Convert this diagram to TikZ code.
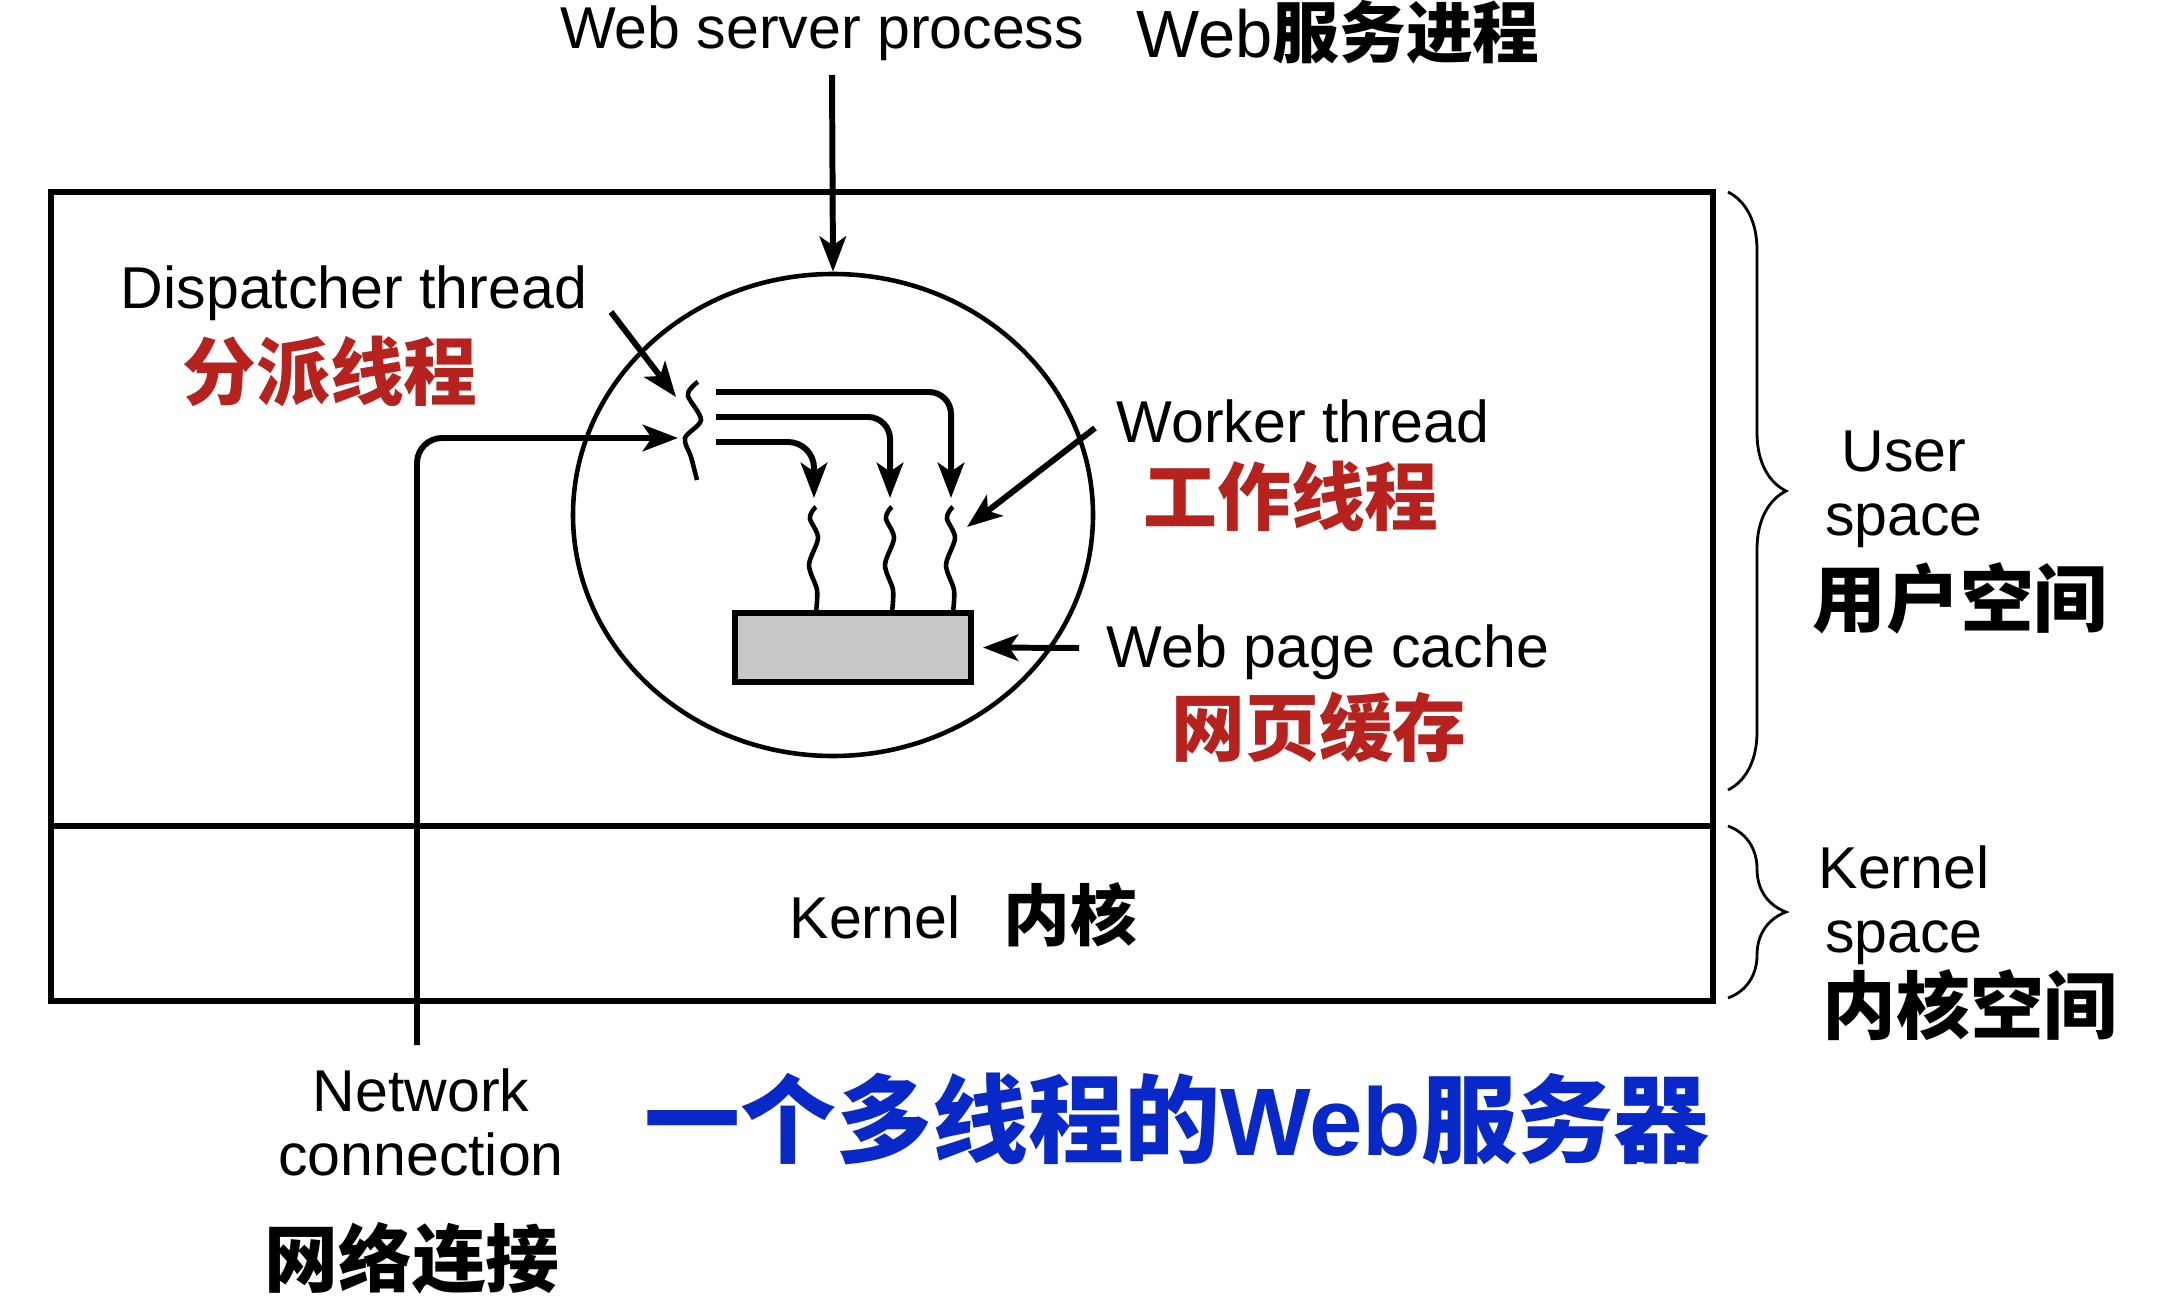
\documentclass[tikz,border=0pt]{standalone}
\usepackage{fontspec}
\setmainfont{Liberation Sans}
\newfontfamily\cjk{Noto Sans CJK SC}
\usetikzlibrary{arrows.meta,decorations.pathreplacing,shapes.geometric,positioning}
\definecolor{zhred}{RGB}{182,34,30}
\definecolor{zhblue}{RGB}{8,40,200}
\definecolor{cachegray}{RGB}{200,200,200}

\begin{document}
\begin{tikzpicture}[
    lbl/.style={font=\fontsize{16.8}{18.2}\selectfont, inner sep=0pt, align=center},
    zh/.style={font=\fontsize{21}{24}\selectfont\cjk\bfseries, inner sep=0pt},
    redzh/.style={zh, text=zhred},
    arrow/.style={line width=1.7pt, -{Stealth[length=10pt,width=7.5pt,inset=2.5pt]}},
    thread/.style={line width=1.3pt},
    brace/.style={line width=0.8pt, decorate, decoration={brace, amplitude=0.58cm}}
]
    \useasboundingbox (0,0) rectangle (21.8,12.98);

    % Proceso: espacio de usuario y kernel
    \draw[line width=1.8pt] (0.51,2.97) rectangle (17.13,11.06);
    \draw[line width=1.8pt] (0.51,4.72) -- (17.13,4.72);
    \node[draw, ellipse, line width=1.3pt, minimum width=5.2cm, minimum height=4.82cm] (proc) at (8.33,7.83) {};
    \node[draw, line width=1.7pt, fill=cachegray, minimum width=2.36cm, minimum height=0.69cm] (cache) at (8.53,6.505) {};

    % Hilo despachador
    \draw[thread] plot[smooth] coordinates {(6.98,9.16) (6.93,9.12) (6.88,9.02) (7.01,8.78) (6.85,8.60) (6.91,8.41) (6.97,8.18)};
    \coordinate (disp) at (6.78,8.60);
    \coordinate (dtip) at (6.76,9.01);
    \foreach \n/\y in {1/9.06, 2/8.81, 3/8.56}
        \coordinate (d\n) at (7.16,\y);

    % Hilos trabajadores
    \foreach \x/\n in {8.14/1, 8.90/2, 9.51/3} {
        \draw[thread] plot[smooth] coordinates {({\x+0.02},7.91) ({\x-0.01},7.88) ({\x-0.04},7.79) ({\x+0.04},7.60) ({\x-0.05},7.33) ({\x+0.03},7.08) ({\x+0.02},6.86)};
        \coordinate (w\n) at (\x,8.00);
    }
    \draw[arrow, rounded corners=0.22cm] (d1) -| (w3);
    \draw[arrow, rounded corners=0.22cm] (d2) -| (w2);
    \draw[arrow, rounded corners=0.26cm] (d3) -| (w1);

    % Etiquetas
    \node[lbl, anchor=base] (websrv) at (8.22,12.49) {Web server process};
    \node[anchor=base, inner sep=0pt, font=\fontsize{19}{22}\selectfont] (websrvzh) at (13.38,12.40) {Web{\cjk\bfseries 服务进程}};
    \node[lbl, anchor=base] (displbl) at (3.54,9.89) {Dispatcher thread};
    \node[redzh] (dispzh) at (3.30,9.27) {分派线程};
    \node[lbl, anchor=base] (worklbl) at (13.03,8.56) {Worker thread};
    \node[redzh] (workzh) at (12.91,8.02) {工作线程};
    \node[lbl, anchor=base] (cachelbl) at (13.28,6.31) {Web page cache};
    \node[redzh] (cachezh) at (13.19,5.71) {网页缓存};
    \node[lbl, anchor=base] (user) at (19.04,7.63) {User\\space};
    \node[zh] (userzh) at (19.60,7.00) {用户空间};
    \node[lbl, anchor=base] (kern) at (19.04,3.46) {Kernel\\space};
    \node[zh] (kernzh) at (19.70,2.93) {内核空间};
    \node[lbl, anchor=base] (kernel) at (8.75,3.60) {Kernel};
    \node[zh, font=\fontsize{19}{22}\selectfont\cjk\bfseries] (kernelzh) at (10.70,3.83) {内核};
    \node[lbl, anchor=base] (netlbl) at (4.21,1.23) {Network\\connection};
    \node[zh] (netzh) at (4.12,0.40) {网络连接};
    \node[inner sep=0pt, text=zhblue, font=\fontsize{27.3}{31}\selectfont\bfseries] (title) at (11.77,1.79) {{\cjk 一个多线程的}Web{\cjk 服务器}};

    % Flechas
    \coordinate (top) at (8.32,12.23);
    \coordinate (net) at (4.17,2.53);
    \coordinate (dl) at (6.11,9.86);
    \coordinate (wl) at (10.95,8.70);
    \coordinate (cl) at (10.79,6.50);
    \draw[arrow] (top) -- (proc.north);
    \draw[arrow, rounded corners=0.25cm] (net) |- (disp);
    \draw[arrow] (dl) -- (dtip);
    \draw[arrow] (wl) -- (9.67,7.71);
    \draw[arrow] (cl) -- ([xshift=0.09cm]cache.east);

    % Llaves
    \draw[brace] (17.28,11.06) -- (17.28,5.08);
    \draw[brace] (17.28,4.72) -- (17.28,3.00);
\end{tikzpicture}
\end{document}
